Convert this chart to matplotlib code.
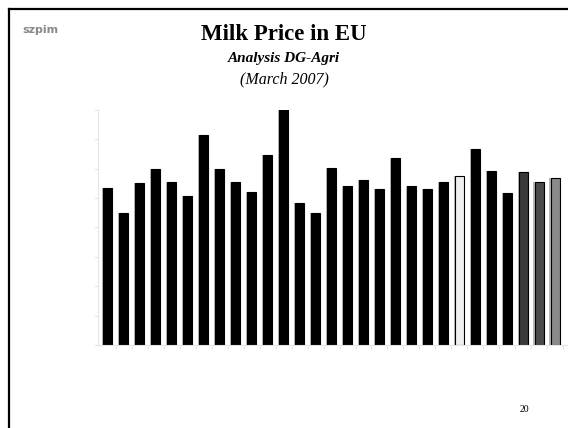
import numpy as np
import matplotlib
matplotlib.use("Agg")
import matplotlib.pyplot as plt

# milk prices, one bar per member state
prices = [26.8, 22.4, 27.6, 29.9, 27.8, 25.3, 35.8, 30.0, 27.8, 26.1,
          32.3, 40.6, 24.1, 22.5, 30.2, 27.1, 28.0, 26.6, 31.9, 27.1,
          26.6, 27.8, 28.7, 33.3, 29.7, 25.9, 29.4, 27.8, 28.5]
colors = ['black'] * 22 + ['#efefef', 'black', 'black', 'black',
                           '#3a3a3a', '#4a4a4a', '#8a8a8a']
yticks = [0, 5, 10, 15, 20, 25, 30, 35, 40]

fig = plt.figure(figsize=(5.68, 4.28), dpi=100)

# slide frame (left and top edges only)
fig.add_artist(plt.Line2D([0.016, 0.016], [0, 0.979], color='black', lw=1.6))
fig.add_artist(plt.Line2D([0.016, 1.0], [0.979, 0.979], color='black', lw=1.6))

fig.text(0.5, 0.92, 'Milk Price in EU', ha='center', va='center',
         family='Liberation Serif', weight='bold', fontsize=16.5)
fig.text(0.5, 0.864, 'Analysis DG-Agri', ha='center', va='center',
         family='Liberation Serif', weight='bold', style='italic', fontsize=11)
fig.text(0.5, 0.815, '(March 2007)', ha='center', va='center',
         family='Liberation Serif', style='italic', fontsize=11.5)
fig.text(0.072, 0.93, 'szpim', ha='center', va='center', color='#888888',
         weight='bold', fontsize=8)
fig.text(0.924, 0.044, '20', ha='center', va='center',
         family='Liberation Serif', fontsize=7)

ax = fig.add_axes([0.173, 0.194, 0.827, 0.549])
x = np.arange(len(prices))
# thin grey shading on the side of each bar for the 3D look
ax.bar(x - 0.06, prices, width=0.6, color='#b8b8b8', zorder=1)
ax.bar(x, prices, width=0.58, color=colors, edgecolor='black',
       linewidth=0.8, zorder=2)

ax.set_xlim(-0.6, 28.8)
ax.set_ylim(0, 40)
ax.set_yticks(yticks)
ax.set_yticklabels([])
ax.set_xticks(x + 0.5)
ax.set_xticklabels([])
ax.tick_params(colors='#e6e6e6', length=3)
for side in ['top', 'right']:
    ax.spines[side].set_visible(False)
for side in ['left', 'bottom']:
    ax.spines[side].set_color('#e6e6e6')

fig.savefig('out.png', dpi=100)
